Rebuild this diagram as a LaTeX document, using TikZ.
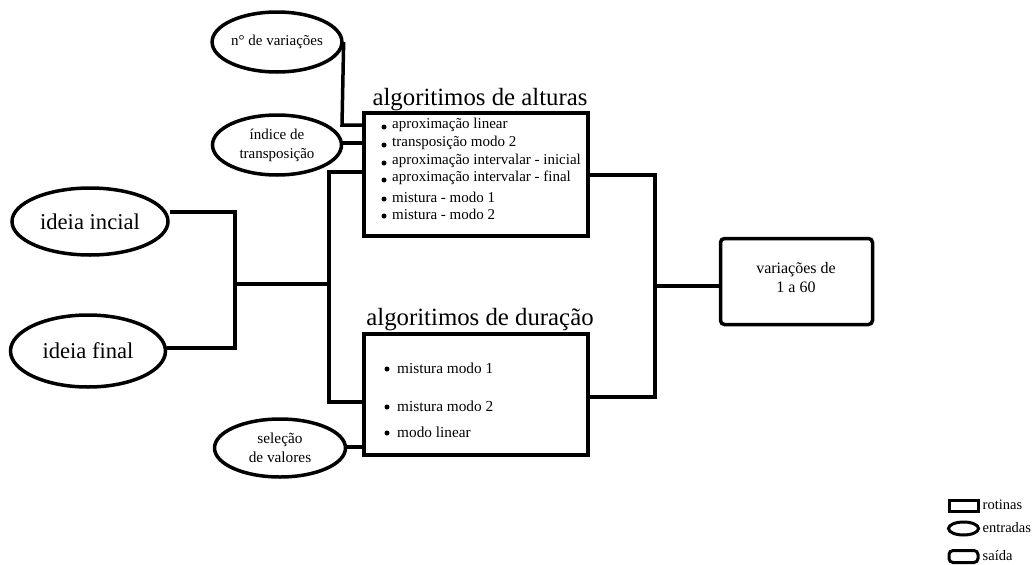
\documentclass[tikz,border=0pt]{standalone}
\usepackage{fontspec}
\setmainfont{Liberation Serif}
\usetikzlibrary{shapes.geometric}
\tikzset{
  ln/.style={line width=3.5pt},
  rotbox/.style={draw, line width=3.6pt, inner sep=0pt},
  outbox/.style={draw, line width=3.5pt, rounded corners=4pt, inner sep=0pt},
  outtxt/.style={inner sep=0pt, align=center, font=\fontsize{16}{19}\selectfont},
  inell/.style={draw, ellipse, line width=3.5pt, inner sep=0pt, align=center},
  ttl/.style={font=\fontsize{24.8}{28}\selectfont, inner sep=0pt},
  itm/.style={anchor=west, inner sep=0pt, font=\fontsize{15}{17}\selectfont},
  itmb/.style={anchor=west, inner sep=0pt, font=\fontsize{15.3}{17}\selectfont},
  bul/.style={fill, circle, inner sep=0pt, minimum size=5pt},
  leg/.style={anchor=west, inner sep=0pt, font=\fontsize{14.5}{16}\selectfont},
}
\begin{document}
\begin{tikzpicture}[x=1pt,y=-1pt]
\useasboundingbox (0,0) rectangle (1034,565);
% ellipses (inputs)
\node[inell, minimum width=129, minimum height=60, font=\fontsize{15}{17}\selectfont] (nvar) at (277,42) {n° de variações};
\node[inell, minimum width=129, minimum height=60, font=\fontsize{15}{19}\selectfont] (idx) at (277,145) {índice de\\transposição};
\node[inell, minimum width=131, minimum height=58, font=\fontsize{15.3}{19}\selectfont] (sel) at (280,448) {seleção\\de valores};
\node[inell, minimum width=156, minimum height=67, font=\fontsize{22.6}{26}\selectfont] (ini) at (90,221.5) {ideia incial};
\node[inell, minimum width=155, minimum height=72, font=\fontsize{22.6}{26}\selectfont] (fin) at (88,351) {ideia final};
% routine boxes
\node[rotbox, minimum width=224, minimum height=123] (alt) at (476,174.5) {};
\node[ttl] (altT) at (480,100) {algoritimos de alturas};
\node[rotbox, minimum width=224, minimum height=121] (dur) at (476,394.5) {};
\node[ttl] (durT) at (480,320) {algoritimos de duração};
% output
\node[outbox, minimum width=152, minimum height=86] (out) at (796.5,281.5) {};
\node[outtxt] (outT) at (796,277.5) {variações de\\1 a 60};
% items alturas
\foreach \y/\t [count=\i] in {125/aproximação linear,143/transposição modo 2,161/aproximação intervalar - inicial,178/aproximação intervalar - final,197/mistura - modo 1,214/mistura - modo 2}{
  \node[bul] (ab\i) at (384,\y+2) {};
  \node[itm] (a\i) at (392,\y) {\t};
}
% items duração
\foreach \y/\t [count=\i] in {368/mistura modo 1,406/mistura modo 2,432/modo linear}{
  \node[bul] (db\i) at (387,\y+1) {};
  \node[itmb] (d\i) at (397,\y) {\t};
}
% junction coordinates
\coordinate (jl) at (235,284);
\coordinate (jm) at (329,284);
\coordinate (jr) at (655,286);
% connectors
\draw[ln] (nvar.east) -- (342,125) -- (alt.west |- 0,125);
\draw[ln] (idx.east |- 0,143) -- (alt.west |- 0,143);
\draw[ln] (ini.east |- 0,212) -| (jl) |- (fin.east |- 0,348);
\draw[ln] (jl) -- (jm);
\draw[ln] (alt.west |- 0,172) -| (jm) |- (dur.west |- 0,402);
\draw[ln] (alt.east |- 0,175) -| (jr) |- (dur.east |- 0,397);
\draw[ln] (jr) -- (jr -| out.west);
\draw[ln] (sel.east |- 0,447) -- (dur.west |- 0,447);
% legend
\node[draw, line width=3pt, minimum width=29, minimum height=11, inner sep=0pt] (lr) at (963.5,505.5) {};
\node[leg] (lrt) at (982.5,505) {rotinas};
\node[draw, ellipse, line width=3pt, minimum width=30, minimum height=13, inner sep=0pt] (le) at (963.5,528.5) {};
\node[leg] (let) at (982.5,528) {entradas};
\node[draw, line width=3pt, rounded corners=4pt, minimum width=29, minimum height=12, inner sep=0pt] (ls) at (963.5,556.5) {};
\node[leg] (lst) at (982.5,556) {saída};
\end{tikzpicture}
\end{document}
